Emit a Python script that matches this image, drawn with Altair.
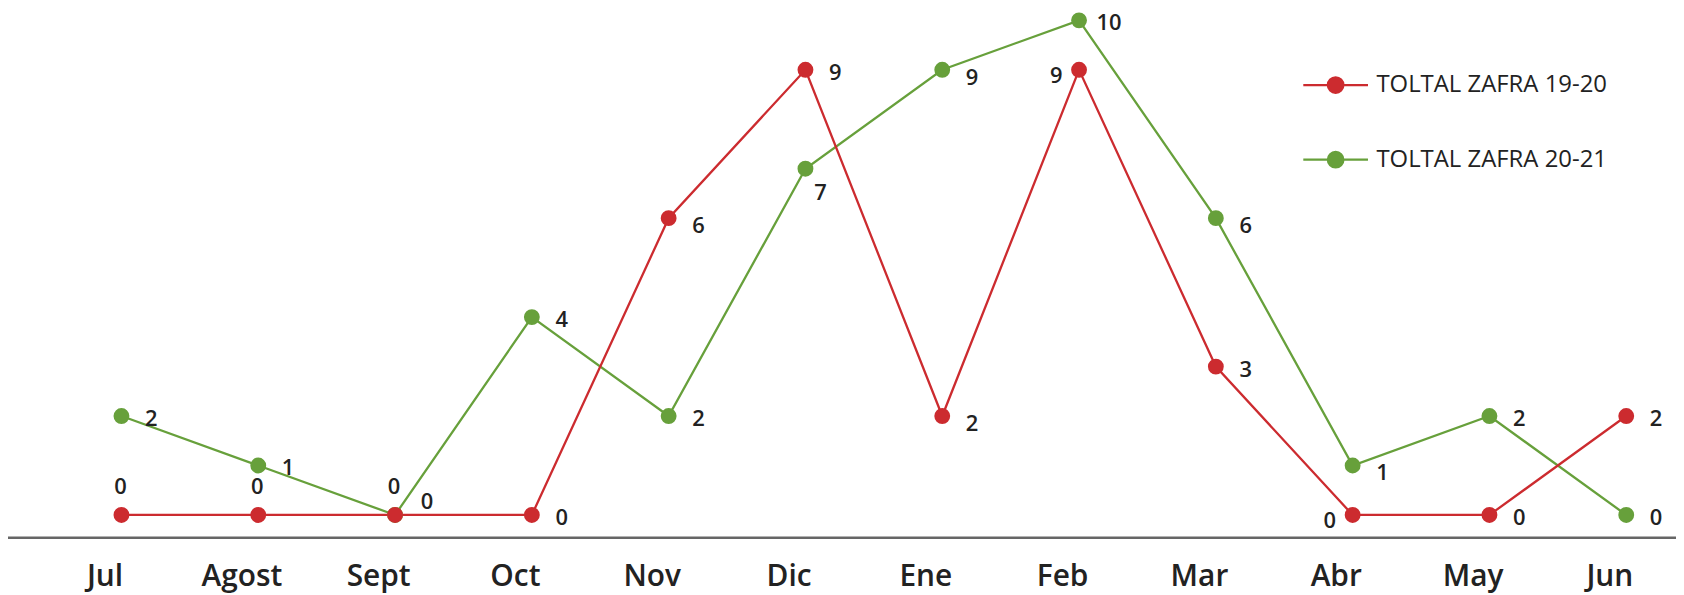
import altair as alt
import pandas as pd

# ---- data ----
months = ["Jul", "Agost", "Sept", "Oct", "Nov", "Dic", "Ene", "Feb", "Mar", "Abr", "May", "Jun"]
series_names = ["TOLTAL ZAFRA 19-20", "TOLTAL ZAFRA 20-21"]
zafra_19_20 = [0, 0, 0, 0, 6, 9, 2, 9, 3, 0, 0, 2]
zafra_20_21 = [2, 1, 0, 4, 2, 7, 9, 10, 6, 1, 2, 0]
# where each value label sits relative to its point
place_19_20 = ["above", "above", "upright", "right", "lowright", "right",
               "lowright", "left", "right", "left", "right", "right"]
place_20_21 = ["right", "right", "above", "right", "right", "below",
               "lowright", "right", "lowright", "lowright", "right", "right"]

RED = "#CC2B2F"
GREEN = "#67A03B"
W, H = 1676, 531

rows = []
for vals, places, name in [(zafra_19_20, place_19_20, series_names[0]),
                           (zafra_20_21, place_20_21, series_names[1])]:
    for m, v, p in zip(months, vals, places):
        rows.append({"mes": m, "serie": name, "valor": v, "lugar": p})
df = pd.DataFrame(rows)

# custom legend symbol: line with a dot (concentric rings make a solid dot)
rings = ""
for r in [0.04, 0.09, 0.14, 0.19, 0.24]:
    rings += f"M{r},0A{r},{r},0,1,1,{-r},0A{r},{r},0,1,1,{r},0"
SYMBOL = "M-1,0H1" + rings

legend = alt.Legend(
    title=None, orient="none", legendX=1300, legendY=42, direction="vertical",
    symbolType=SYMBOL, symbolSize=4225, symbolStrokeWidth=2.3, symbolOpacity=1,
    labelFont="Open Sans", labelFontSize=24, labelColor="#222222", labelLimit=400,
    labelOffset=7, rowPadding=28, padding=0,
)
color = alt.Color("serie:N", scale=alt.Scale(domain=series_names, range=[RED, GREEN]), legend=legend)

x = alt.X(
    "mes:N", sort=months,
    scale=alt.Scale(type="point", range=[114, 1626], padding=0),
    axis=alt.Axis(title=None, domain=False, ticks=False, tickSize=0, grid=False, labelAngle=0,
                  labelFont="Open Sans", labelFontSize=30, labelFontWeight=600, labelColor="#222222",
                  labelPadding=39, labelBaseline="middle", labelOffset=-17),
)
y = alt.Y("valor:Q", scale=alt.Scale(domain=[-0.463, 10.221], nice=False, zero=False), axis=None)

base = alt.Chart(df)

baseline = alt.Chart(pd.DataFrame({"b": [0]})).mark_rule(color="#666666", strokeWidth=2.5).encode(
    x=alt.value(0), x2=alt.value(W), y=alt.value(H)
)

def series_line(name):
    return base.transform_filter(alt.datum.serie == name).mark_line(strokeWidth=2.3).encode(
        x=x, y=y, color=color)

def series_points(name):
    return base.transform_filter(alt.datum.serie == name).mark_circle(size=254, opacity=1).encode(
        x=x, y=y, color=color)

offsets = {
    "right": (30, 3),
    "lowright": (30, 8),
    "above": (-1, -28),
    "upright": (32, -13),
    "left": (-23, 6),
    "below": (15, 24),
}
texts = []
for p, (ddx, ddy) in offsets.items():
    texts.append(
        base.transform_filter(alt.datum.lugar == p).mark_text(
            dx=ddx, dy=ddy, font="Open Sans", fontSize=22, fontWeight=600, color="#222222",
            align="center", baseline="middle"
        ).encode(x=x, y=y, text="valor:Q")
    )

chart = alt.layer(
    baseline,
    series_line(series_names[1]),
    series_line(series_names[0]),
    series_points(series_names[1]),
    series_points(series_names[0]),
    *texts,
).properties(
    width=W, height=H,
    padding={"left": 0, "top": 0, "right": 0, "bottom": 56},
    autosize=alt.AutoSizeParams(type="none"),
).configure_view(stroke=None)

chart.save("out.html", embed_options={"renderer": "svg", "actions": False})
